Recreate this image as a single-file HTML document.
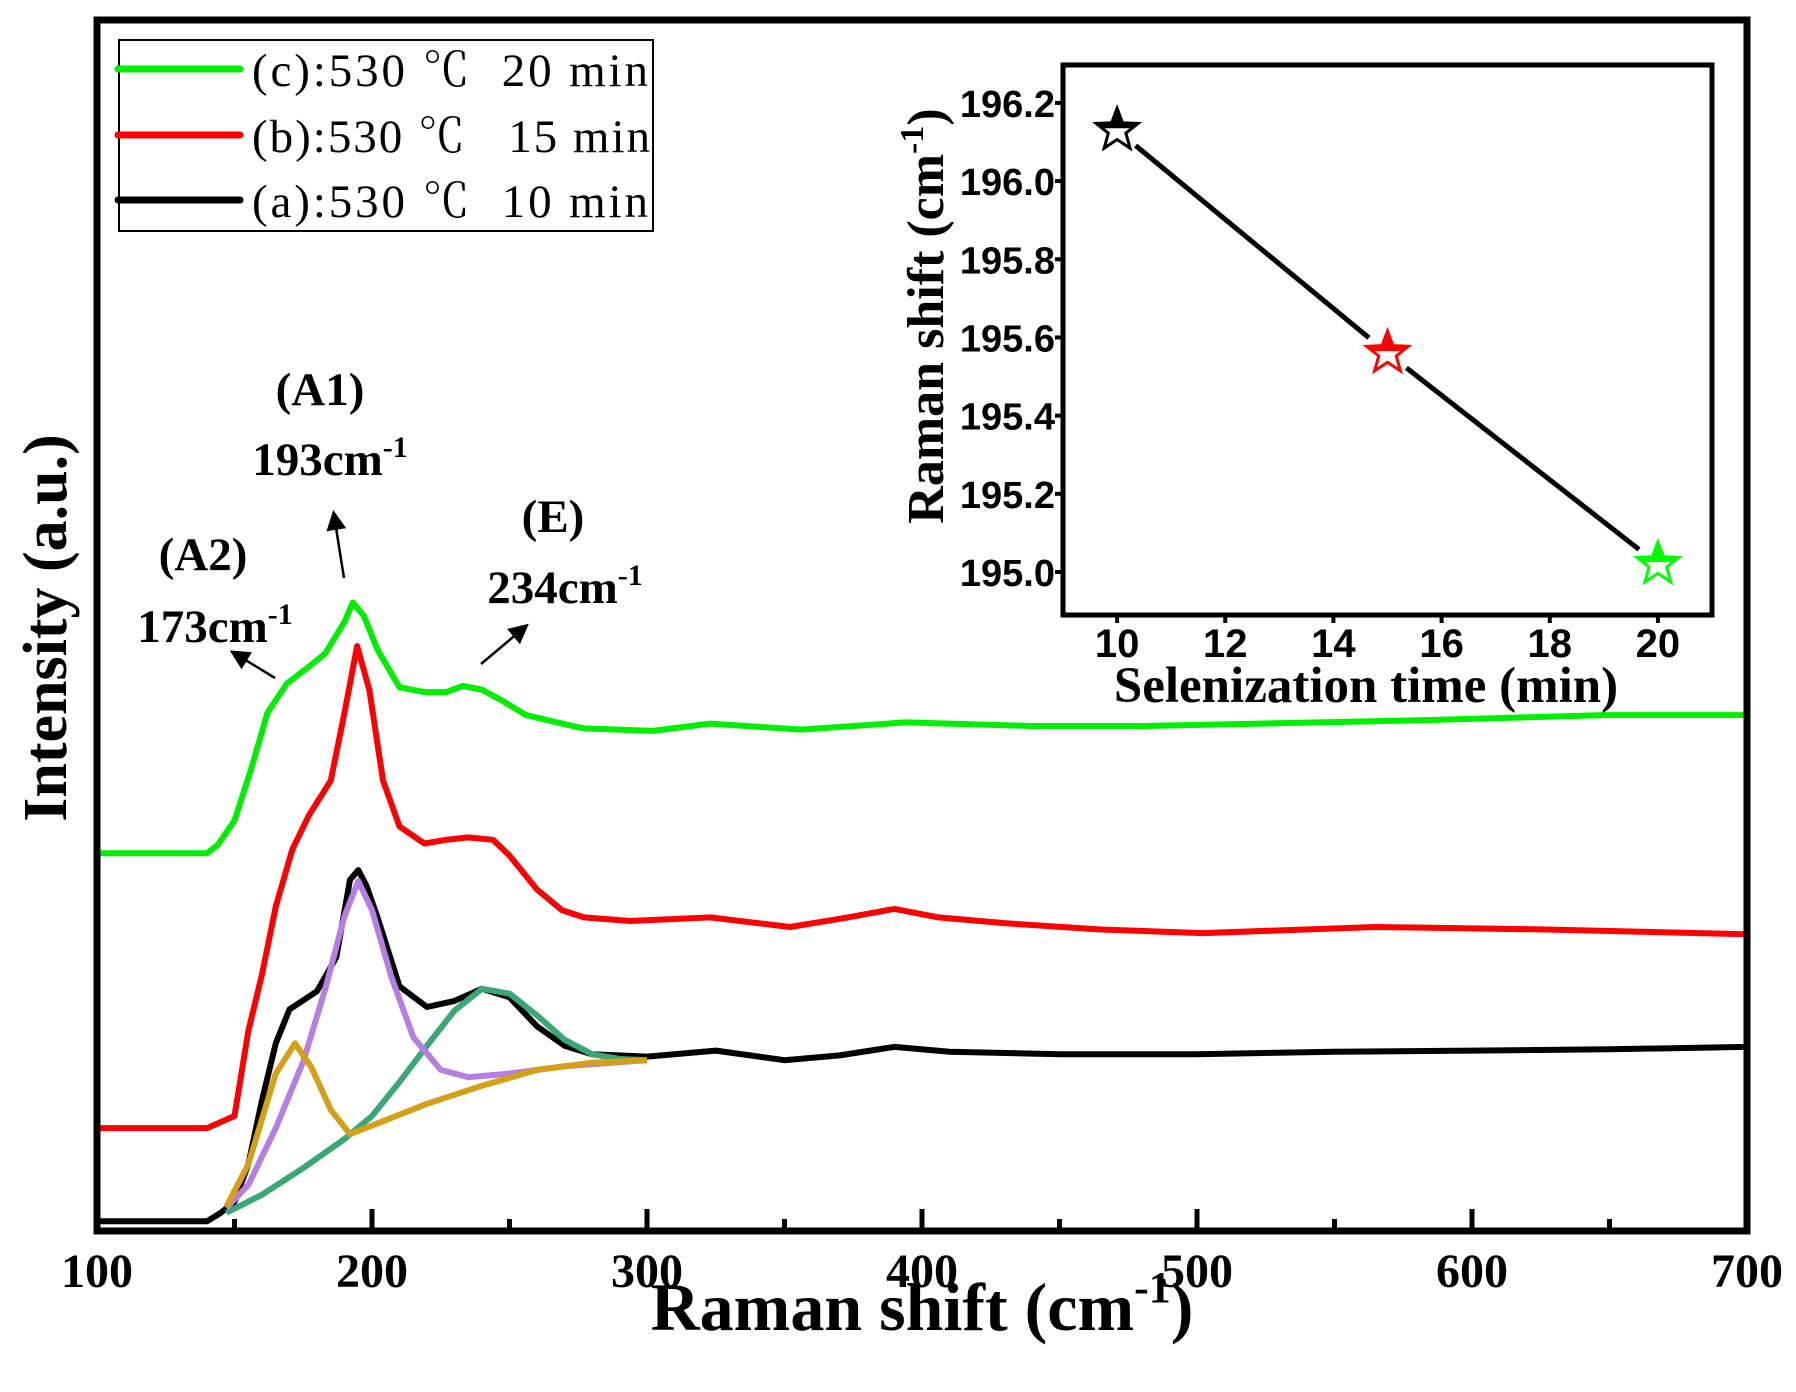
<!DOCTYPE html>
<html><head><meta charset="utf-8"><style>
html,body{margin:0;padding:0;background:#fff}
svg{display:block}
.ser{font-family:"Liberation Serif","Noto Serif CJK SC",serif}
.san{font-family:"Liberation Sans",sans-serif;font-weight:bold}
</style></head><body>
<svg id="chart" width="1796" height="1392" viewBox="0 0 1796 1392">
<g id="main"></g>
<g id="inset"></g>
</svg>
<script>
// ---- main chart data ----
const blackX=[100,140,145,150,155,160,165,170,180,187,192,195,198,202,210,220,230,240,250,260,270,280,300,325,350,370,390,410,450,500,550,600,650,700];
const blackY=[0.8,0.8,1.5,2.4,5.5,10.8,15.5,18.3,19.8,22.6,29.0,29.8,28.5,25.9,20.2,18.5,19.0,20.0,19.3,16.9,15.3,14.6,14.4,14.9,14.1,14.5,15.2,14.8,14.6,14.6,14.8,14.9,15.0,15.2];
const redX=[100,140,150,155,160,165,171,177,185,190,194.6,199,204,210,219,227,235,244,250,260,269,277,294,323,352,373,390,406,431,465,502,565,627,700];
const redY=[8.5,8.5,9.5,16.5,21.2,26.8,31.5,34.3,37.2,42.8,48.3,44.7,37.2,33.4,32.0,32.3,32.5,32.3,31.0,28.2,26.5,25.9,25.6,25.9,25.1,25.9,26.6,25.9,25.4,24.9,24.6,25.1,24.9,24.5];
const greenX=[100,140,144,150,156,162,169,177,183,190,193,197,202,210,219,227,233,240,248,256,269,277,302,323,356,394,440,481,523,585,648,700];
const greenY=[31.2,31.2,31.9,33.9,38.1,42.8,45.2,46.6,47.7,50.3,51.9,50.8,48.0,44.9,44.5,44.5,45.0,44.7,43.7,42.6,41.9,41.5,41.3,41.9,41.4,42.0,41.7,41.7,41.9,42.2,42.6,42.6];
const fitA1X=[147,155,165,175,183,190,195,200,207,215,225,235,250,270,300];
const fitA1Y=[1.9,3.8,8.5,14,20,26,28.9,26.5,21,16,13.3,12.7,13,13.6,14.1];
const fitA2X=[147,155,165,172,178,185,192,200,220,240,260,280,300];
const fitA2Y=[2,5.5,13,15.5,13.5,10,8.0,8.7,10.5,12,13.3,13.9,14.1];
const fitEX=[147,160,175,190,200,210,220,230,240,250,260,270,280,290,300];
const fitEY=[1.5,3,5.2,7.6,9.5,12.3,15.3,18.2,20,19.6,17.8,15.8,14.6,14.2,14.1];
const xTicks=[100,200,300,400,500,600,700];
const xMinor=[150,250,350,450,550,650];
// ---- inset data ----
const insetTimes=[10,15,20];
const insetShift=[196.13,195.56,195.02];
const insetColors=['#000000','#ff0000','#00ff00'];
const insetXTicks=[10,12,14,16,18,20];
const insetYTicks=[195.0,195.2,195.4,195.6,195.8,196.0,196.2];

const NS='http://www.w3.org/2000/svg';
function mk(tag,attrs,parent){const e=document.createElementNS(NS,tag);for(const k in attrs)e.setAttribute(k,attrs[k]);parent.appendChild(e);return e;}
const main=document.getElementById('main');
const L=97,R=1747,T=20,B=1231;
const xs=v=>L+(v-100)*(R-L)/600;
const ys=v=>B-(v)*(B-T)/100;
function path(X,Y,sx,sy){return X.map((x,i)=>(i?'L':'M')+sx(x).toFixed(1)+','+sy(Y[i]).toFixed(1)).join(' ');}

const series=[[greenX,greenY,'#00ee00','series-c-20min'],[redX,redY,'#ff0000','series-b-15min'],[blackX,blackY,'#000000','series-a-10min']];
series.forEach(s=>{const p=mk('path',{d:path(s[0],s[1],xs,ys),fill:'none',stroke:s[2],'stroke-width':6,'stroke-linejoin':'round'},main);

});
const fits=[[fitEX,fitEY,'#3aa876','fit-e-peak'],[fitA1X,fitA1Y,'#b57ee0','fit-a1-peak'],[fitA2X,fitA2Y,'#d4a017','fit-a2-peak']];
fits.forEach(s=>{const p=mk('path',{d:path(s[0],s[1],xs,ys),fill:'none',stroke:s[2],'stroke-width':6,'stroke-linejoin':'round'},main);

});

const fr=mk('rect',{x:L,y:T,width:R-L,height:B-T,fill:'none',stroke:'#000','stroke-width':7},main);


xTicks.forEach(t=>{const l=mk('line',{x1:xs(t),x2:xs(t),y1:B,y2:B-22,stroke:'#000','stroke-width':5},main);


const tx=mk('text',{x:xs(t),y:B+56,'text-anchor':'middle','font-size':48,'font-weight':'bold',class:'ser'},main);tx.textContent=t;

});
xMinor.forEach(t=>{const l=mk('line',{x1:xs(t),x2:xs(t),y1:B,y2:B-12,stroke:'#000','stroke-width':5},main);

});

const ins=document.getElementById('inset');
const iL=1063,iR=1712,iT=65,iB=615;
const ixs=v=>iL+(v-9)*(iR-iL)/12;
const iys=v=>iB-(v-194.89)*(iB-iT)/(196.297-194.89);
insetXTicks.forEach(t=>{const l=mk('line',{x1:ixs(t),x2:ixs(t),y1:iB,y2:iB+8,stroke:'#000','stroke-width':4},ins);


const tx=mk('text',{x:ixs(t),y:iB+42,'text-anchor':'middle','font-size':40,class:'san'},ins);tx.textContent=t;

});
insetYTicks.forEach(t=>{const l=mk('line',{x1:iL,x2:iL-8,y1:iys(t),y2:iys(t),stroke:'#000','stroke-width':4},ins);


const tx=mk('text',{x:iL-8,y:iys(t)+14,'text-anchor':'end','font-size':38,class:'san'},ins);tx.textContent=t.toFixed(1);

});
for(let i=0;i<insetTimes.length-1;i++){
 const x1=ixs(insetTimes[i]),y1=iys(insetShift[i]),x2=ixs(insetTimes[i+1]),y2=iys(insetShift[i+1]);
 const d=Math.hypot(x2-x1,y2-y1),ux=(x2-x1)/d,uy=(y2-y1)/d,g=24;
 const l=mk('line',{x1:x1+ux*g,y1:y1+uy*g,x2:x2-ux*g,y2:y2-uy*g,stroke:'#000','stroke-width':5},ins);
 
 
}
function starPts(cx,cy,r){const p=[];for(let k=0;k<10;k++){const a=-Math.PI/2+k*Math.PI/5,rr=k%2?r*0.42:r;p.push((cx+rr*Math.cos(a)).toFixed(1)+','+(cy+rr*Math.sin(a)).toFixed(1));}return p.join(' ');}
insetTimes.forEach((t,i)=>{const cx=ixs(t),cy=iys(insetShift[i]);
 const clip=mk('clipPath',{id:'cp'+i},ins);mk('rect',{x:cx-30,y:cy-30,width:60,height:28},clip);
 const s=mk('polygon',{points:starPts(cx,cy,22),fill:'#fff',stroke:insetColors[i],'stroke-width':3},ins);
 
 
 mk('polygon',{points:starPts(cx,cy,22),fill:insetColors[i],'clip-path':'url(#cp'+i+')'},ins);
});
const ifr=mk('rect',{x:iL,y:iT,width:iR-iL,height:iB-iT,fill:'none',stroke:'#000','stroke-width':5},ins);


</script>
<svg width="1796" height="1392" style="position:absolute;left:0;top:0">
<defs><marker id="ah" markerWidth="8" markerHeight="8" refX="6" refY="4" orient="auto" markerUnits="strokeWidth"><path d="M0,0 L8,4 L0,8 z" fill="#000"/></marker></defs>
<g>
<rect x="119" y="40" width="534" height="191" fill="#fff" stroke="#000" stroke-width="2"/>
<line x1="118" y1="69" x2="240" y2="69" stroke="#00ee00" stroke-width="7" stroke-linecap="round"/>
<line x1="118" y1="135" x2="240" y2="135" stroke="#ff0000" stroke-width="7" stroke-linecap="round"/>
<line x1="118" y1="200" x2="240" y2="200" stroke="#000" stroke-width="7" stroke-linecap="round"/>
<text x="252" y="86" font-size="47" class="ser" textLength="396" lengthAdjust="spacing" xml:space="preserve">(c):530 ℃  20 min</text>
<text x="252" y="152" font-size="47" class="ser" textLength="398" lengthAdjust="spacing" xml:space="preserve">(b):530 ℃   15 min</text>
<text x="252" y="217" font-size="47" class="ser" textLength="396" lengthAdjust="spacing" xml:space="preserve">(a):530 ℃  10 min</text>
</g>
<g class="ser" font-weight="bold" font-size="47">
<text x="320" y="405" text-anchor="middle">(A1)</text>
<text x="330" y="475" text-anchor="middle">193cm<tspan font-size="30" dy="-18">-1</tspan></text>
<text x="203" y="570" text-anchor="middle">(A2)</text>
<text x="215" y="642" text-anchor="middle">173cm<tspan font-size="30" dy="-18">-1</tspan></text>
<text x="553" y="532" text-anchor="middle">(E)</text>
<text x="565" y="603" text-anchor="middle">234cm<tspan font-size="30" dy="-18">-1</tspan></text>
</g>
<line x1="344" y1="578" x2="334" y2="515" stroke="#000" stroke-width="2.5" marker-end="url(#ah)"/>
<line x1="275" y1="678" x2="234" y2="653" stroke="#000" stroke-width="2.5" marker-end="url(#ah)"/>
<line x1="481" y1="664" x2="525" y2="627" stroke="#000" stroke-width="2.5" marker-end="url(#ah)"/>
<text x="922" y="1330" text-anchor="middle" font-size="68" font-weight="bold" class="ser">Raman shift (cm<tspan font-size="44" dy="-28">-1</tspan><tspan dy="28">)</tspan></text>
<text transform="translate(66,628) rotate(-90)" text-anchor="middle" font-size="62" font-weight="bold" class="ser">Intensity (a.u.)</text>
<text x="1366" y="702" text-anchor="middle" font-size="51" font-weight="bold" class="ser">Selenization time (min)</text>
<text transform="translate(943,316) rotate(-90)" text-anchor="middle" font-size="52" font-weight="bold" class="ser">Raman shift (cm<tspan font-size="34" dy="-20">-1</tspan><tspan dy="20">)</tspan></text>
</svg>
</body></html>
